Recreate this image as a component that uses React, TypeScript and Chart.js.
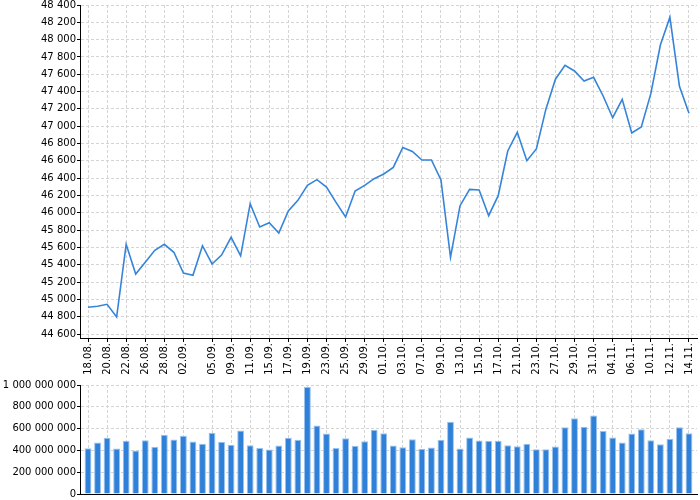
import { useEffect, useRef } from 'react';
import { Chart, registerables } from 'chart.js';

Chart.register(...registerables);

// trading days shown in the chart
const dates = [
  '18.08.', '19.08.', '20.08.', '21.08.', '22.08.', '25.08.', '26.08.', '27.08.', '28.08.', '29.08.',
  '02.09.', '03.09.', '04.09.', '05.09.', '08.09.', '09.09.', '10.09.', '11.09.', '12.09.', '15.09.',
  '16.09.', '17.09.', '18.09.', '19.09.', '22.09.', '23.09.', '24.09.', '25.09.', '26.09.', '29.09.',
  '30.09.', '01.10.', '02.10.', '03.10.', '06.10.', '07.10.', '08.10.', '09.10.', '10.10.', '13.10.',
  '14.10.', '15.10.', '16.10.', '17.10.', '20.10.', '21.10.', '22.10.', '23.10.', '24.10.', '27.10.',
  '28.10.', '29.10.', '30.10.', '31.10.', '03.11.', '04.11.', '05.11.', '06.11.', '07.11.', '10.11.',
  '11.11.', '12.11.', '13.11.', '14.11.',
];

// dates that get a label and a grid line
const tickDates = [
  '18.08.', '20.08.', '22.08.', '26.08.', '28.08.', '02.09.', '05.09.', '09.09.', '11.09.', '15.09.',
  '17.09.', '19.09.', '23.09.', '25.09.', '29.09.', '01.10.', '03.10.', '07.10.', '09.10.', '13.10.',
  '15.10.', '17.10.', '21.10.', '23.10.', '27.10.', '29.10.', '31.10.', '04.11.', '06.11.', '10.11.',
  '12.11.', '14.11.',
];

const closes = [
  44910, 44920, 44943, 44796, 45636, 45293, 45428, 45567, 45636, 45544,
  45305, 45278, 45620, 45409, 45512, 45717, 45503, 46105, 45836, 45886,
  45767, 46021, 46144, 46317, 46383, 46298, 46121, 45951, 46252, 46317,
  46394, 46448, 46525, 46754, 46708, 46610, 46610, 46379, 45486, 46082,
  46271, 46263, 45967, 46198, 46714, 46929, 46602, 46737, 47197, 47543,
  47704, 47638, 47522, 47565, 47349, 47098, 47310, 46922, 46991, 47376,
  47938, 48258, 47461, 47149,
];

const volumes = [
  420000000, 472000000, 515000000, 417000000, 488000000, 399000000, 494000000, 433000000, 543000000, 500000000,
  534000000, 482000000, 460000000, 561000000, 479000000, 451000000, 583000000, 448000000, 423000000, 408000000,
  445000000, 515000000, 497000000, 982000000, 629000000, 555000000, 423000000, 512000000, 442000000, 485000000,
  589000000, 558000000, 445000000, 429000000, 503000000, 414000000, 426000000, 497000000, 663000000, 417000000,
  518000000, 491000000, 488000000, 488000000, 448000000, 439000000, 460000000, 411000000, 411000000, 436000000,
  613000000, 696000000, 617000000, 721000000, 577000000, 518000000, 472000000, 555000000, 595000000, 494000000,
  457000000, 506000000, 613000000, 558000000,
];

const priceTicks = [
  44600, 44800, 45000, 45200, 45400, 45600, 45800, 46000, 46200, 46400,
  46600, 46800, 47000, 47200, 47400, 47600, 47800, 48000, 48200, 48400,
];

const LINE = '#3584da';
const BAR = '#2f80d8';
const BAR_EDGE = '#9cc3ee';
const GRID = '#d4d4d4';

const tickIdx = tickDates.map((d) => dates.indexOf(d));

const fmt = (v: number) => String(v).replace(/\B(?=(\d{3})+(?!\d))/g, ' ');

Chart.defaults.font.family = "'DejaVu Sans', sans-serif";
Chart.defaults.font.size = 10;
Chart.defaults.color = '#000';

function xAxis(showLabels: boolean, height: number) {
  return {
    type: 'linear' as const,
    min: -0.84,
    max: dates.length - 1 + 0.84,
    offset: false,
    afterBuildTicks: (s: any) => {
      s.ticks = tickIdx.map((v) => ({ value: v }));
    },
    afterFit: (s: any) => {
      s.height = height;
      s.paddingLeft = 0;
      s.paddingRight = 0;
    },
    ticks: {
      display: showLabels,
      autoSkip: false,
      maxRotation: 90,
      minRotation: 90,
      padding: 1,
      callback: (v: any) => dates[v] ?? '',
    },
    grid: {
      color: GRID,
      tickColor: '#000',
      tickLength: 4,
      drawTicks: showLabels,
      offset: false,
    },
    border: { color: '#000', dash: [3, 2] },
  };
}

export function PriceChart() {
  const chartRef = useRef<HTMLCanvasElement>(null);

  useEffect(() => {
    if (!chartRef.current) return;
    const chart = new Chart(chartRef.current, {
      type: 'line',
      data: {
        datasets: [
          {
            data: closes.map((v, i) => ({ x: i, y: v })),
            borderColor: LINE,
            borderWidth: 1.6,
            pointRadius: 0,
            tension: 0,
            fill: false,
          },
        ],
      },
      options: {
        animation: false,
        responsive: true,
        maintainAspectRatio: false,
        layout: { padding: { top: 5, right: 3, left: 0, bottom: 0 } },
        plugins: { legend: { display: false }, tooltip: { enabled: false } },
        scales: {
          x: xAxis(true, 40),
          y: {
            min: 44554,
            max: 48400,
            afterBuildTicks: (s: any) => {
              s.ticks = priceTicks.map((v) => ({ value: v }));
            },
            afterFit: (s: any) => {
              s.width = 80;
              s.paddingTop = 0;
              s.paddingBottom = 0;
            },
            ticks: { padding: 1, callback: (v: any) => fmt(v) },
            grid: { color: GRID, tickColor: '#000', tickLength: 3 },
            border: { color: '#000', dash: [3, 2] },
          },
        },
      },
    });
    return () => chart.destroy();
  }, []);

  return <canvas ref={chartRef} />;
}

export function VolumeChart() {
  const chartRef = useRef<HTMLCanvasElement>(null);

  useEffect(() => {
    if (!chartRef.current) return;
    const chart = new Chart(chartRef.current, {
      type: 'bar',
      data: {
        datasets: [
          {
            data: volumes.map((v, i) => ({ x: i, y: v })),
            backgroundColor: BAR,
            borderColor: BAR_EDGE,
            borderWidth: 1,
            barPercentage: 0.72,
            categoryPercentage: 1,
          },
        ],
      },
      options: {
        animation: false,
        responsive: true,
        maintainAspectRatio: false,
        layout: { padding: { top: 7, right: 3, left: 0, bottom: 0 } },
        plugins: { legend: { display: false }, tooltip: { enabled: false } },
        scales: {
          x: xAxis(false, 6),
          y: {
            min: 0,
            max: 1000000000,
            ticks: { stepSize: 200000000, padding: 1, callback: (v: any) => fmt(v) },
            afterFit: (s: any) => {
              s.width = 80;
              s.paddingTop = 0;
              s.paddingBottom = 0;
            },
            grid: { color: GRID, tickColor: '#000', tickLength: 3 },
            border: { color: '#000', dash: [3, 2] },
          },
        },
      },
    });
    return () => chart.destroy();
  }, []);

  return <canvas ref={chartRef} />;
}

export default function App() {
  return (
    <div style={{ position: 'absolute', left: 0, top: 0, width: 700, height: 500, background: '#fff' }}>
      <div style={{ position: 'absolute', left: 0, top: 0, width: 700, height: 378 }}>
        <PriceChart />
      </div>
      <div style={{ position: 'absolute', left: 0, top: 378, width: 700, height: 122 }}>
        <VolumeChart />
      </div>
    </div>
  );
}
